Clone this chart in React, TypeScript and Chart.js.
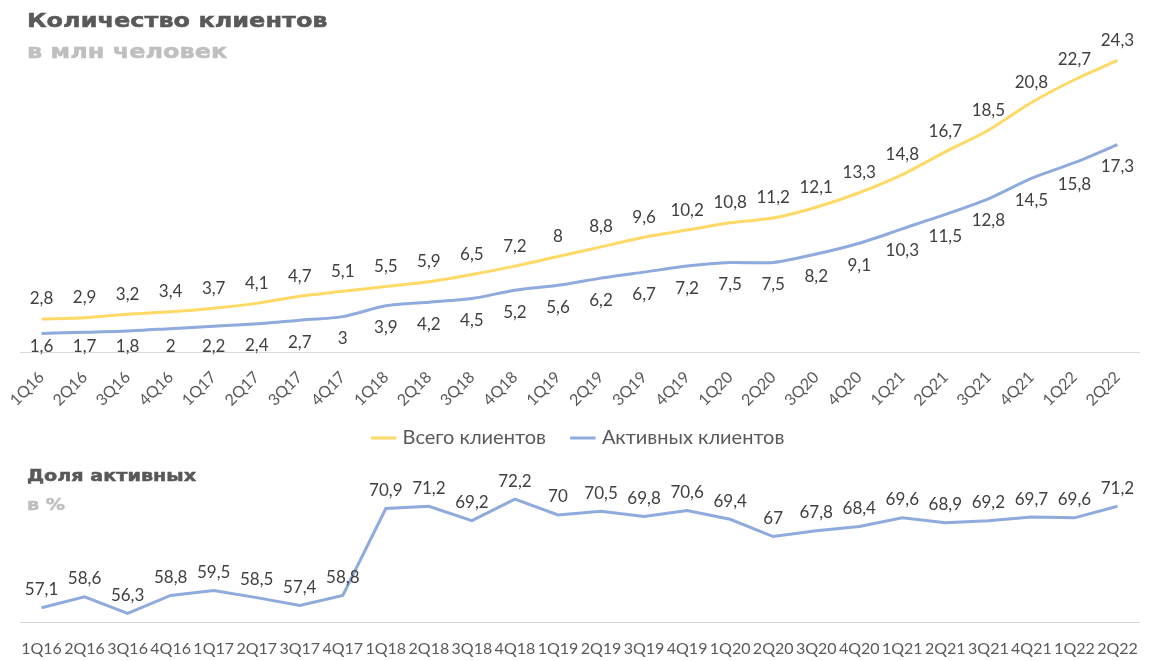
import React, { useEffect, useRef } from "react";
import { Chart, registerables } from "chart.js";

Chart.register(...registerables);

const quarters = [
  "1Q16", "2Q16", "3Q16", "4Q16",
  "1Q17", "2Q17", "3Q17", "4Q17",
  "1Q18", "2Q18", "3Q18", "4Q18",
  "1Q19", "2Q19", "3Q19", "4Q19",
  "1Q20", "2Q20", "3Q20", "4Q20",
  "1Q21", "2Q21", "3Q21", "4Q21",
  "1Q22", "2Q22",
];

const totalClients = [
  2.8, 2.9, 3.2, 3.4, 3.7, 4.1, 4.7, 5.1, 5.5, 5.9, 6.5, 7.2, 8, 8.8, 9.6, 10.2,
  10.8, 11.2, 12.1, 13.3, 14.8, 16.7, 18.5, 20.8, 22.7, 24.3,
];

const activeClients = [
  1.6, 1.7, 1.8, 2, 2.2, 2.4, 2.7, 3, 3.9, 4.2, 4.5, 5.2, 5.6, 6.2, 6.7, 7.2,
  7.5, 7.5, 8.2, 9.1, 10.3, 11.5, 12.8, 14.5, 15.8, 17.3,
];

const activeShare = [
  57.1, 58.6, 56.3, 58.8, 59.5, 58.5, 57.4, 58.8, 70.9, 71.2, 69.2, 72.2, 70,
  70.5, 69.8, 70.6, 69.4, 67, 67.8, 68.4, 69.6, 68.9, 69.2, 69.7, 69.6, 71.2,
];

const seriesNames = ["Всего клиентов", "Активных клиентов"];
const shareName = "Доля активных";

const FONT = "Lato, 'Open Sans', sans-serif";
const TITLE_FONT = "'DejaVu Sans', 'Liberation Sans', sans-serif";
const YELLOW = "#FFD966";
const BLUE = "#8FAADC";

const fmt = (v: number) => String(v).replace(".", ",");

const dataLabelPlugin = {
  id: "valueLabels",
  afterDatasetsDraw(chart: any, _args: any, opts: any) {
    const ctx = chart.ctx;
    const offsets: number[] = (opts && opts.offsets) || [];
    const area = chart.chartArea;
    ctx.save();
    ctx.font = `${opts.size || 17}px ${FONT}`;
    ctx.fillStyle = "#404040";
    ctx.textAlign = "center";
    ctx.textBaseline = "middle";
    chart.data.datasets.forEach((ds: any, i: number) => {
      const meta = chart.getDatasetMeta(i);
      if (!chart.isDatasetVisible(i)) return;
      const off = offsets[i] ?? -18;
      meta.data.forEach((pt: any, j: number) => {
        let y = pt.y + off;
        // keep labels inside the plot area, like the spreadsheet does
        y = Math.min(y, area.bottom - 6);
        ctx.fillText(fmt(ds.data[j]), pt.x, y);
      });
    });
    ctx.restore();
  },
};

function TopChart() {
  const ref = useRef<HTMLCanvasElement | null>(null);
  useEffect(() => {
    if (!ref.current) return;
    const chart = new Chart(ref.current, {
      type: "line",
      data: {
        labels: quarters,
        datasets: [
          {
            label: seriesNames[0],
            data: totalClients,
            borderColor: YELLOW,
            backgroundColor: YELLOW,
            borderWidth: 3,
            pointRadius: 0,
            tension: 0.25,
          },
          {
            label: seriesNames[1],
            data: activeClients,
            borderColor: BLUE,
            backgroundColor: BLUE,
            borderWidth: 3,
            pointRadius: 0,
            tension: 0.25,
          },
        ],
      },
      options: {
        animation: false,
        responsive: false,
        layout: { padding: { left: 20, right: 33, top: 16, bottom: 4 } },
        scales: {
          x: {
            offset: true,
            grid: { display: false },
            border: { display: true, color: "#D9D9D9", width: 1 },
            afterFit: (scale: any) => {
              scale.height -= 17;
              // let the rotated labels overhang the shortened axis box
              scale._computeLabelArea = () => undefined;
            },
            ticks: {
              autoSkip: false,
              minRotation: 45,
              maxRotation: 45,
              padding: 7,
              color: "#595959",
              font: { family: FONT, size: 16 },
            },
          },
          y: { display: false, min: 0, max: 28 },
        },
        plugins: {
          legend: {
            position: "bottom",
            labels: {
              usePointStyle: true,
              pointStyle: "line",
              boxWidth: 18,
              boxHeight: 18,
              color: "#595959",
              font: { family: FONT, size: 20 },
              padding: 28,
            },
          },
          tooltip: { enabled: false },
          valueLabels: { offsets: [-20, 22], size: 17 },
        } as any,
      },
      plugins: [dataLabelPlugin],
    });
    return () => chart.destroy();
  }, []);
  return <canvas ref={ref} width={1172} height={462} />;
}

function BottomChart() {
  const ref = useRef<HTMLCanvasElement | null>(null);
  useEffect(() => {
    if (!ref.current) return;
    const chart = new Chart(ref.current, {
      type: "line",
      data: {
        labels: quarters,
        datasets: [
          {
            label: shareName,
            data: activeShare,
            borderColor: BLUE,
            backgroundColor: BLUE,
            borderWidth: 3,
            pointRadius: 0,
            tension: 0,
          },
        ],
      },
      options: {
        animation: false,
        responsive: false,
        layout: { padding: { left: 20, right: 33, top: 19, bottom: 6 } },
        scales: {
          x: {
            offset: true,
            grid: { display: false },
            border: { display: true, color: "#D9D9D9", width: 1 },
            ticks: {
              autoSkip: false,
              maxRotation: 0,
              minRotation: 0,
              padding: 8,
              color: "#595959",
              font: { family: FONT, size: 16 },
            },
          },
          y: { display: false, min: 55, max: 75 },
        },
        plugins: {
          legend: { display: false },
          tooltip: { enabled: false },
          valueLabels: { offsets: [-18], size: 17 },
        } as any,
      },
      plugins: [dataLabelPlugin],
    });
    return () => chart.destroy();
  }, []);
  return <canvas ref={ref} width={1172} height={212} />;
}

export default function App() {
  const title: React.CSSProperties = {
    position: "absolute",
    left: 27,
    fontFamily: TITLE_FONT,
    fontWeight: 700,
    whiteSpace: "nowrap",
    lineHeight: 1,
    transform: "scaleX(1.2)",
    transformOrigin: "left top",
    WebkitTextStroke: "0.5px currentColor",
  };
  return (
    <div
      style={{
        position: "absolute",
        left: 0,
        top: 0,
        width: 1172,
        height: 661,
        background: "#fff",
        overflow: "hidden",
      }}
    >
      <div style={{ position: "absolute", left: 0, top: 0 }}>
        <TopChart />
      </div>
      <div style={{ position: "absolute", left: 0, top: 460 }}>
        <BottomChart />
      </div>
      <div style={{ ...title, top: 10, fontSize: 20, color: "#595959" }}>
        Количество клиентов
      </div>
      <div style={{ ...title, top: 41, fontSize: 20, color: "#BFBFBF" }}>
        в млн человек
      </div>
      <div style={{ ...title, top: 468, fontSize: 16, color: "#595959" }}>
        Доля активных
      </div>
      <div style={{ ...title, top: 497, fontSize: 16, color: "#BFBFBF" }}>
        в %
      </div>
    </div>
  );
}
